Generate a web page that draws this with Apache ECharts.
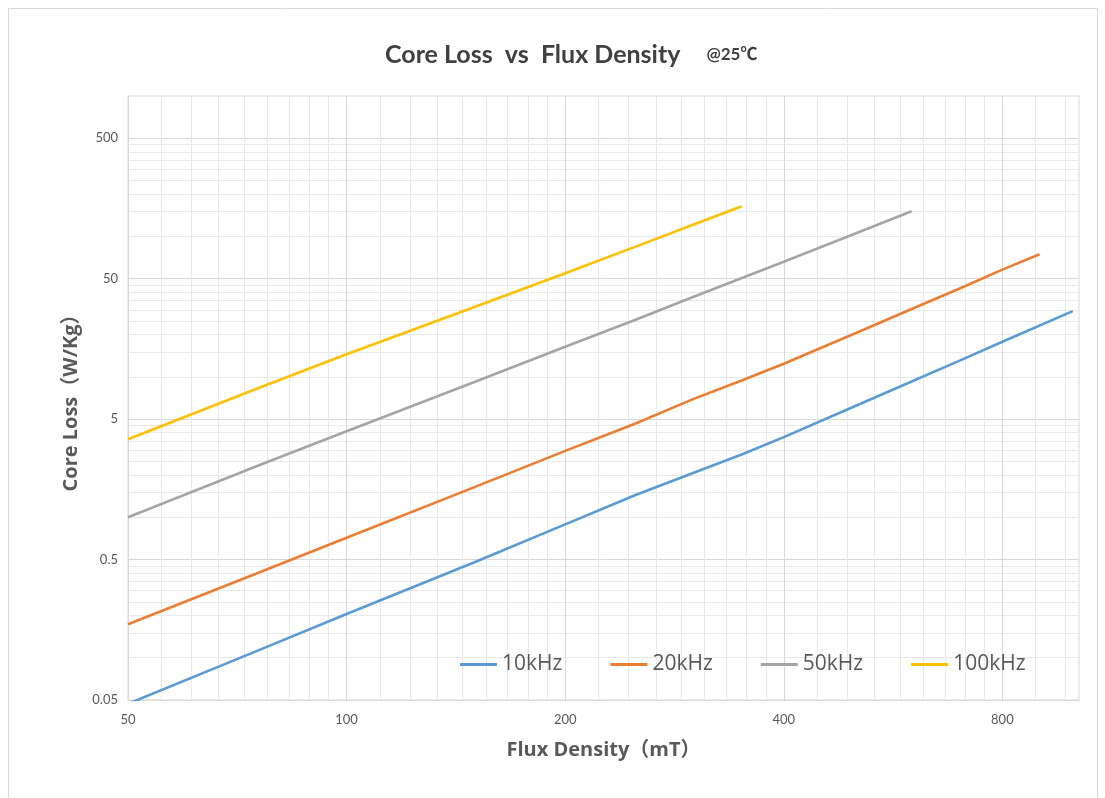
<!DOCTYPE html>
<html>
<head>
<meta charset="utf-8">
<script src="https://cdn.jsdelivr.net/npm/echarts@6/dist/echarts.min.js"></script>
<style>
html,body{margin:0;padding:0;background:#fff;}
#chart{width:1105px;height:798px;}
</style>
</head>
<body>
<div id="chart"></div>
<script>
// ---- data ----
const seriesNames = ['10kHz', '20kHz', '50kHz', '100kHz'];
const flux10k  = [50, 75, 100, 150, 200, 250, 300, 350, 400, 500, 600, 700, 800, 1000];
const loss10k  = [0.047, 0.111, 0.205, 0.478, 0.89, 1.44, 2.07, 2.80, 3.72, 6.15, 9.26, 13.1, 17.8, 29.4];
const flux20k  = [50, 75, 100, 150, 200, 250, 300, 350, 400, 500, 600, 700, 800, 900];
const loss20k  = [0.173, 0.396, 0.715, 1.64, 2.97, 4.66, 6.94, 9.41, 12.4, 20.3, 30.4, 42.8, 58.0, 74.7];
const flux50k  = [50, 75, 100, 150, 200, 250, 300, 400, 500, 600];
const loss50k  = [1.0, 2.3, 4.1, 9.2, 16.4, 25.5, 37, 66, 104, 151];
const flux100k = [50, 75, 100, 150, 200, 250, 300, 350];
const loss100k = [3.6, 8.2, 14.5, 31.4, 54.7, 84.6, 121, 164];

const xTicks = [50, 100, 200, 400, 800];
const yTicks = [0.05, 0.5, 5, 50, 500];
const xMin = 50, xMax = 1020;
const yMin = 0.05, yMax = 1000;

const colors = ['#5B9BD5', '#ED7D31', '#A5A5A5', '#FFC000'];

// minor grid positions (Excel style: 9 linear subdivisions per major interval)
const xMinor = [];
xTicks.forEach(m => { for (let k = 1; k <= 8; k++) { const v = m * (1 + k / 9); if (v < xMax) xMinor.push(v); } });
const yMinor = [];
yTicks.forEach(m => { for (let k = 1; k <= 8; k++) { const v = m * (1 + k); if (v < yMax) yMinor.push(v); } });

const pairs = (xs, ys) => xs.map((x, i) => [x, ys[i]]);
const allData = [pairs(flux10k, loss10k), pairs(flux20k, loss20k), pairs(flux50k, loss50k), pairs(flux100k, loss100k)];

const chart = echarts.init(document.getElementById('chart'), null, {renderer: 'canvas'});
const fontTitle = 'Lato, "Noto Sans CJK SC", sans-serif';
const fontName = '"Open Sans", "Noto Sans CJK SC", sans-serif';

const option = {
  backgroundColor: '#ffffff',
  animation: false,
  title: {
    left: 380, top: 37,
    text: '{a|Core Loss  vs  Flux Density}{b|@25℃}',
    textStyle: {
      rich: {
        a: {fontFamily: fontTitle, fontWeight: 'bold', fontSize: 25, color: '#404040'},
        b: {fontFamily: fontTitle, fontWeight: 'bold', fontSize: 17, color: '#404040', padding: [0, 0, 0, 26]}
      }
    }
  },
  legend: {
    left: 455, top: 649,
    icon: 'rect', itemWidth: 37, itemHeight: 3, itemGap: 48,
    textStyle: {fontFamily: fontName, fontSize: 21, color: '#595959'},
    data: seriesNames
  },
  graphic: [{
    type: 'rect', silent: true, z: -10,
    shape: {x: 8.5, y: 8.5, width: 1089, height: 800},
    style: {fill: 'none', stroke: '#d9d9d9', lineWidth: 1}
  }],
  grid: {left: 128, top: 96, width: 951, height: 604, show: true, borderColor: '#d9d9d9', borderWidth: 1, containLabel: false},
  xAxis: [
    {
      type: 'log', logBase: 2, min: xMin, max: xMax, gridIndex: 0, position: 'bottom',
      axisLine: {show: false}, axisLabel: {show: false},
      axisTick: {show: false, customValues: xMinor},
      splitLine: {show: true, lineStyle: {color: '#e9e9e9', width: 1}}
    },
    {
      type: 'log', logBase: 2, min: xMin, max: xMax, gridIndex: 0, position: 'bottom',
      name: 'Flux Density（mT）', nameLocation: 'middle', nameGap: 40,
      nameTextStyle: {fontFamily: fontName, fontWeight: 'bold', fontSize: 20, color: '#595959'},
      axisLine: {show: true, lineStyle: {color: '#d9d9d9'}},
      axisTick: {show: false, customValues: xTicks},
      axisLabel: {customValues: xTicks, margin: 13, fontFamily: fontTitle, fontSize: 13, color: '#595959', formatter: v => String(v)},
      splitLine: {show: true, lineStyle: {color: '#d9d9d9', width: 1}}
    }
  ],
  yAxis: [
    {
      type: 'log', logBase: 10, min: yMin, max: yMax, gridIndex: 0, position: 'left',
      axisLine: {show: false}, axisLabel: {show: false},
      axisTick: {show: false, customValues: yMinor},
      splitLine: {show: true, lineStyle: {color: '#e9e9e9', width: 1}}
    },
    {
      type: 'log', logBase: 10, min: yMin, max: yMax, gridIndex: 0, position: 'left',
      name: 'Core Loss（W/Kg）', nameLocation: 'middle', nameGap: 47, nameRotate: 90,
      nameTextStyle: {fontFamily: fontName, fontWeight: 'bold', fontSize: 20, color: '#595959'},
      axisLine: {show: true, lineStyle: {color: '#d9d9d9'}},
      axisTick: {show: false, customValues: yTicks},
      axisLabel: {customValues: yTicks, margin: 10, fontFamily: fontTitle, fontSize: 13, color: '#595959', formatter: v => String(v)},
      splitLine: {show: true, lineStyle: {color: '#d9d9d9', width: 1}}
    }
  ],
  series: seriesNames.map((name, i) => ({
    name: name,
    type: 'line',
    xAxisIndex: 1, yAxisIndex: 1,
    data: allData[i],
    showSymbol: false, symbol: 'none',
    clip: true,
    lineStyle: {color: colors[i], width: 2.6},
    itemStyle: {color: colors[i]}
  }))
};
chart.setOption(option);
</script>
</body>
</html>
